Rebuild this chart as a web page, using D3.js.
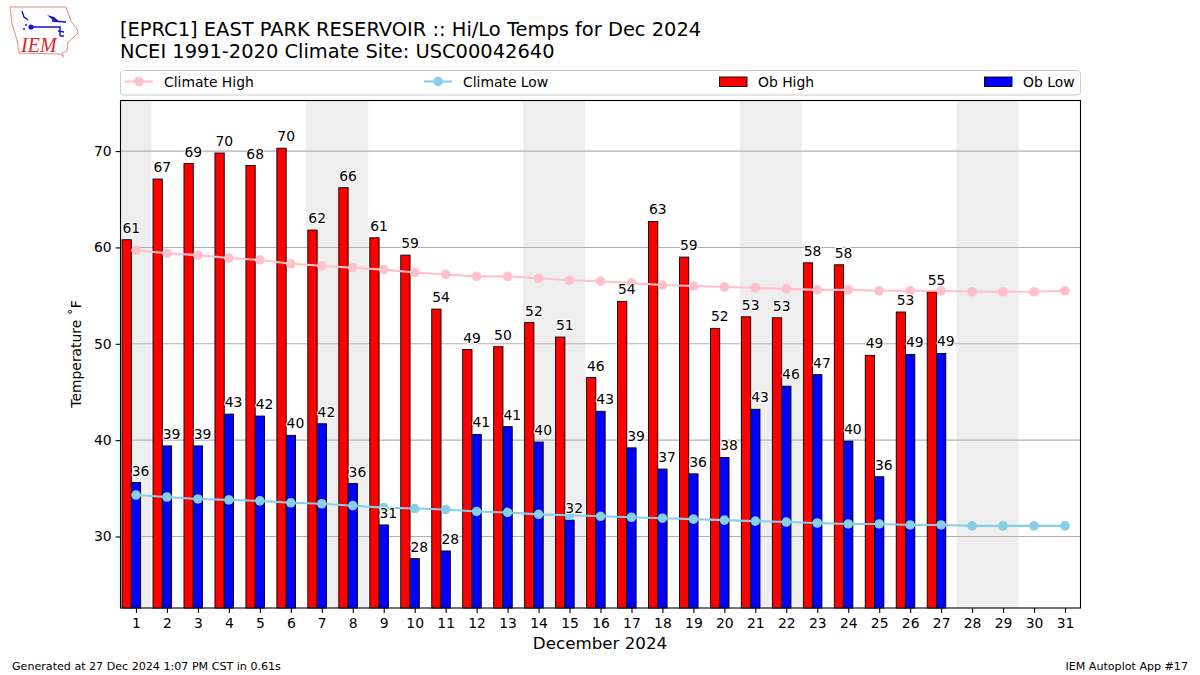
<!DOCTYPE html>
<html>
<head>
<meta charset="utf-8">
<script src="https://cdn.jsdelivr.net/npm/d3@7"></script>
<style>
	html, body { margin: 0; padding: 0; background: #fff; }
	svg { display: block; }
	text { font-family: "DejaVu Sans", sans-serif; fill: #000; }
</style>
</head>
<body>
<div id="chart"></div>
<script>
var days = d3.range(1, 32);
var obDays = d3.range(1, 28);
var weekends = [[0.5, 1.5], [6.5, 8.5], [13.5, 15.5], [20.5, 22.5], [27.5, 29.5]];
var yTicks = [30, 40, 50, 60, 70];

var obHigh = [60.8, 67.1, 68.7, 69.8, 68.5, 70.3, 61.8, 66.2, 61.0, 59.2, 53.6, 49.4, 49.7, 52.2,
	50.7, 46.5, 54.4, 62.7, 59.0, 51.6, 52.8, 52.7, 58.4, 58.2, 48.8, 53.3, 55.4];
var obLow = [35.6, 39.4, 39.4, 42.7, 42.5, 40.5, 41.7, 35.5, 31.2, 27.7, 28.5, 40.6, 41.4, 39.8,
	31.7, 43.0, 39.2, 37.0, 36.5, 38.2, 43.2, 45.6, 46.8, 39.9, 36.2, 48.9, 49.0];
var climateHigh = [59.7, 59.4, 59.2, 58.9, 58.7, 58.3, 58.1, 57.9, 57.7, 57.4, 57.2, 57.0, 57.0, 56.8,
	56.6, 56.5, 56.3, 56.1, 56.0, 55.9, 55.8, 55.7, 55.6, 55.6, 55.5, 55.5, 55.5, 55.4, 55.4, 55.4, 55.5];
var climateLow = [34.3, 34.1, 33.9, 33.8, 33.7, 33.5, 33.4, 33.2, 33.0, 32.9, 32.8, 32.6, 32.5, 32.3,
	32.2, 32.1, 32.0, 31.9, 31.8, 31.7, 31.6, 31.5, 31.4, 31.3, 31.3, 31.2, 31.2, 31.1, 31.1, 31.1, 31.1];

var titleLines = ["[EPRC1] EAST PARK RESERVOIR :: Hi/Lo Temps for Dec 2024", "NCEI 1991-2020 Climate Site: USC00042640"];
var legendNames = ["Climate High", "Climate Low", "Ob High", "Ob Low"];

var width = 1200, height = 675;
var plot = { left: 120.5, right: 1080.5, top: 100.5, bottom: 608 };

var svg = d3.select("#chart").append("svg")
	.attr("width", width)
	.attr("height", height);

var x = d3.scaleLinear().domain([0.5, 31.5]).range([plot.left, plot.right]);
var y = d3.scaleLinear().domain([22.58, 75.25]).range([plot.bottom, plot.top]);

// python style rounding, the labels on the .5 values go to the even number
function roundEven(v) {
	var r = Math.round(v);
	if (Math.abs(v % 1) === 0.5 && r % 2 !== 0) r -= 1;
	return r;
}

// weekend shading
svg.append("g").selectAll("rect").data(weekends).join("rect")
	.attr("x", function(d) { return x(d[0]); })
	.attr("width", function(d) { return x(d[1]) - x(d[0]); })
	.attr("y", plot.top)
	.attr("height", plot.bottom - plot.top)
	.attr("fill", "#eeeeee");

// grid
svg.append("g").selectAll("line").data(yTicks).join("line")
	.attr("x1", plot.left)
	.attr("x2", plot.right)
	.attr("y1", function(d) { return y(d); })
	.attr("y2", function(d) { return y(d); })
	.attr("stroke", "#b0b0b0")
	.attr("stroke-width", 1.1);

// bars
function drawBars(values, colour, from, to) {
	svg.append("g").selectAll("rect").data(values).join("rect")
		.attr("x", function(d, i) { return x(obDays[i] + from); })
		.attr("width", x(to) - x(from))
		.attr("y", function(d) { return y(d); })
		.attr("height", function(d) { return plot.bottom - y(d); })
		.attr("fill", colour)
		.attr("stroke", "#000")
		.attr("stroke-width", 0.9);
}
drawBars(obHigh, "red", -0.45, -0.15);
drawBars(obLow, "blue", -0.15, 0.15);

// climate lines
function drawClimate(values, colour) {
	var line = d3.line()
		.x(function(d, i) { return x(days[i]); })
		.y(function(d) { return y(d); });
	svg.append("path")
		.attr("d", line(values))
		.attr("fill", "none")
		.attr("stroke", colour)
		.attr("stroke-width", 2.08);
	svg.append("g").selectAll("circle").data(values).join("circle")
		.attr("cx", function(d, i) { return x(days[i]); })
		.attr("cy", function(d) { return y(d); })
		.attr("r", 4.8)
		.attr("fill", colour);
}
drawClimate(climateHigh, "pink");
drawClimate(climateLow, "skyblue");

// value labels, white halo like the original
function drawLabels(values, offset) {
	svg.append("g").selectAll("text").data(values).join("text")
		.attr("x", function(d, i) { return x(obDays[i] + offset); })
		.attr("y", function(d) { return y(d) - 7; })
		.attr("text-anchor", "middle")
		.style("font-size", "13.9px")
		.style("paint-order", "stroke")
		.style("stroke", "#fff")
		.style("stroke-width", "2px")
		.text(function(d) { return roundEven(d); });
}
drawLabels(obHigh, -0.15);
drawLabels(obLow, 0.15);

// frame
svg.append("rect")
	.attr("x", plot.left)
	.attr("y", plot.top)
	.attr("width", plot.right - plot.left)
	.attr("height", plot.bottom - plot.top)
	.attr("fill", "none")
	.attr("stroke", "#000")
	.attr("stroke-width", 1.1);

// axes
var xAxis = svg.append("g")
	.attr("transform", "translate(0," + plot.bottom + ")")
	.call(d3.axisBottom(x).tickValues(days).tickSize(4.9).tickPadding(5).tickFormat(d3.format("d")));
var yAxis = svg.append("g")
	.attr("transform", "translate(" + plot.left + ",0)")
	.call(d3.axisLeft(y).tickValues(yTicks).tickSize(4.9).tickPadding(4).tickFormat(d3.format("d")));
[xAxis, yAxis].forEach(function(a) {
	a.select(".domain").remove();
	a.selectAll("line").attr("stroke", "#000").attr("stroke-width", 1.1);
	a.selectAll("text").style("font-size", "13.9px").style("font-family", '"DejaVu Sans", sans-serif');
});

// titles
svg.append("g").selectAll("text").data(titleLines).join("text")
	.attr("x", 120)
	.attr("y", function(d, i) { return 35.5 + i * 22; })
	.style("font-size", "19.44px")
	.text(function(d) { return d; });

svg.append("text")
	.attr("x", 600)
	.attr("y", 649)
	.attr("text-anchor", "middle")
	.style("font-size", "16.7px")
	.text("December 2024");

svg.append("text")
	.attr("transform", "translate(81,354) rotate(-90)")
	.attr("text-anchor", "middle")
	.style("font-size", "13.9px")
	.text("Temperature \u02DAF");

svg.append("text")
	.attr("x", 12)
	.attr("y", 670)
	.style("font-size", "11.1px")
	.text("Generated at 27 Dec 2024 1:07 PM CST in 0.61s");

svg.append("text")
	.attr("x", 1188)
	.attr("y", 670)
	.attr("text-anchor", "end")
	.style("font-size", "11.1px")
	.text("IEM Autoplot App #17");

// legend
var legendX = [125, 424, 719, 984];
var legendColours = ["pink", "skyblue", "red", "blue"];
svg.append("rect")
	.attr("x", 120.5)
	.attr("y", 70.5)
	.attr("width", 960)
	.attr("height", 24.5)
	.attr("rx", 3)
	.attr("fill", "#fff")
	.attr("stroke", "#cccccc")
	.attr("stroke-width", 1);

var legend = svg.append("g").selectAll("g").data(legendNames).join("g")
	.attr("transform", function(d, i) { return "translate(" + legendX[i] + ",81.5)"; });
legend.append("text")
	.attr("x", 39)
	.attr("y", 5)
	.style("font-size", "13.9px")
	.text(function(d) { return d; });
legend.each(function(d, i) {
	var g = d3.select(this);
	if (i < 2) {
		g.append("line").attr("x1", 0).attr("x2", 28)
			.attr("stroke", legendColours[i]).attr("stroke-width", 2.08);
		g.append("circle").attr("cx", 14).attr("r", 4.8).attr("fill", legendColours[i]);
	} else {
		g.append("rect").attr("x", 0.5).attr("y", -4.5).attr("width", 27.5).attr("height", 9.5)
			.attr("fill", legendColours[i]).attr("stroke", "#000").attr("stroke-width", 0.9);
	}
});

// IEM logo
var logo = svg.append("g");
logo.append("path")
	.attr("d", "M10,7 L66,7 L68,13 L71,21 L77,29 L78,33 L73,38 L68,42 L67,51 L62,53 L64,57 L60,54 L19,53 L17,40 L12,24 Z")
	.attr("fill", "#fff")
	.attr("stroke", "#e58a8a")
	.attr("stroke-width", 1);
logo.append("path")
	.attr("d", "M31,27 L60,27 L60,36 M22,11 L24,17 L28,20 M52,21 L66,22 M58,31 L64,32 M60,36 L64,36")
	.attr("fill", "none")
	.attr("stroke", "#1414d2")
	.attr("stroke-width", 1.4);
logo.append("path")
	.attr("d", "M47,15 L54,17 L60,22 L54,21 Z")
	.attr("fill", "#1414d2");
logo.append("circle").attr("cx", 31).attr("cy", 27).attr("r", 2.6).attr("fill", "#1414d2");
logo.append("circle").attr("cx", 24).attr("cy", 29).attr("r", 1).attr("fill", "#1414d2");
logo.append("circle").attr("cx", 26).attr("cy", 25).attr("r", 1).attr("fill", "#1414d2");
logo.append("text")
	.attr("x", 21)
	.attr("y", 52)
	.style("font-family", '"Liberation Serif", serif')
	.style("font-style", "italic")
	.style("font-size", "20px")
	.style("fill", "#d62828")
	.text("IEM");
</script>
</body>
</html>
